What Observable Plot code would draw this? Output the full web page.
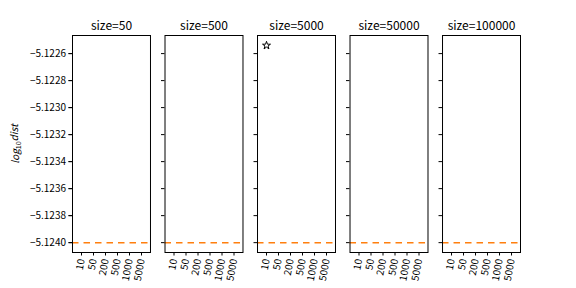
<!DOCTYPE html>
<html>
<head>
<meta charset="utf-8">
<script src="https://cdn.jsdelivr.net/npm/d3@7"></script>
<script src="https://cdn.jsdelivr.net/npm/@observablehq/plot@0.6"></script>
<style>
  html, body { margin: 0; padding: 0; background: #fff; }
  #chart svg { font-family: "Noto Sans CJK SC", "DejaVu Sans", sans-serif; }
</style>
</head>
<body>
<div id="chart"></div>
<script>
// ---- data ----
const sizes = [50, 500, 5000, 50000, 100000];
const xCategories = ["10", "50", "200", "500", "1000", "5000"];
const yTicks = [-5.1240, -5.1238, -5.1236, -5.1234, -5.1232, -5.1230, -5.1228, -5.1226];
const yDomain = [-5.124073, -5.122466];
const refLineValue = -5.1240;
const starSize = [5000];
const starX = ["10"];
const starY = [-5.12254];

const refData = sizes.map(s => ({size: s, y: refLineValue}));
const starData = starSize.map((s, i) => ({size: s, x: starX[i], y: starY[i]}));

const chart = Plot.plot({
  width: 576,
  height: 288,
  marginTop: 35,
  marginBottom: 36,
  marginLeft: 72,
  marginRight: 56,
  style: {background: "#fff", fontSize: "10px", color: "black"},
  fx: {domain: sizes, paddingInner: 0.157, paddingOuter: 0, round: false},
  x: {type: "point", domain: xCategories, padding: 0.5},
  y: {domain: yDomain, label: "log10dist"},
  marks: [
    Plot.ruleY(refData, {fx: "size", y: "y", stroke: "#ff7f0e", strokeWidth: 1.5, strokeDasharray: "6.5,5"}),
    Plot.dot(starData, {fx: "size", x: "x", y: "y", symbol: "star", r: 2.5, stroke: "black", fill: "white", strokeWidth: 1}),
    Plot.frame({stroke: "black", strokeWidth: 1}),
    Plot.axisFx({anchor: "top", tickSize: 0, tickPadding: 6, label: null, fontSize: 12, tickFormat: d => `size=${d}`}),
    Plot.axisX({tickRotate: -80, tickSize: 3.5, tickPadding: 3, label: null, fontSize: 10}),
    Plot.axisY({ticks: yTicks, tickSize: 3.5, tickPadding: 3, tickFormat: d3.format(".4f"), label: "log10dist", labelAnchor: "center", labelOffset: 61, labelArrow: "none", fontSize: 10}),
    Plot.axisY({ticks: yTicks, tickSize: 3.5, facetAnchor: null, tickFormat: () => "", label: null})
  ]
});
document.getElementById("chart").appendChild(chart);

// mathtext-like y label: log_{10}dist
const lab = d3.select(chart).select('g[aria-label="y-axis label"] text');
if (!lab.empty()) {
  lab.text(null).attr("font-style", "italic");
  lab.append("tspan").text("log");
  lab.append("tspan").attr("font-size", "7px").attr("font-style", "normal").attr("dy", "0.3em").text("10");
  lab.append("tspan").attr("dy", "-0.3em").text("dist");
}
</script>
</body>
</html>
